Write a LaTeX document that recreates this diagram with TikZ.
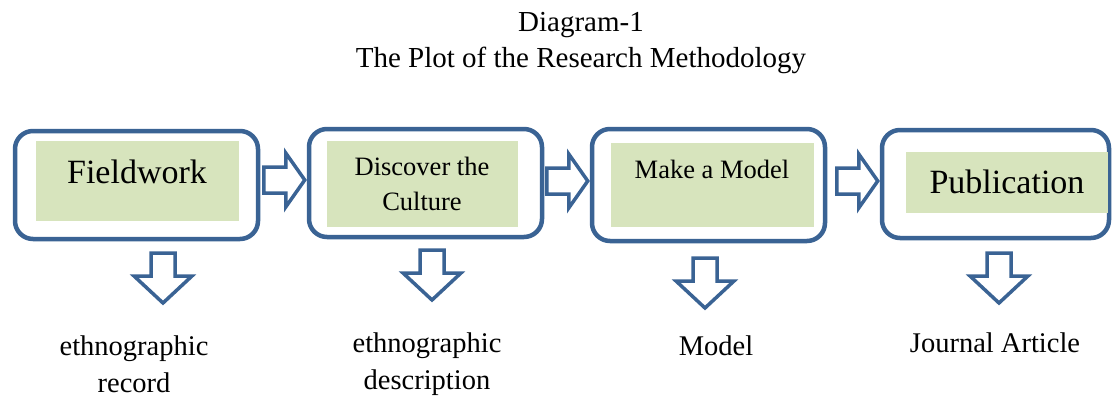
\documentclass[tikz,border=0pt]{standalone}
\usepackage{fontspec}
\setmainfont{Liberation Serif}
\definecolor{boxblue}{RGB}{58,99,148}
\definecolor{boxgreen}{RGB}{215,228,189}
\tikzset{
  outbox/.style={draw=boxblue, line width=4.5pt, rounded corners=18pt, fill=white},
  greenbox/.style={fill=boxgreen, inner sep=0pt},
  blockline/.style={draw=boxblue, line width=3.5pt, fill=white, line join=miter},
  bigtxt/.style={font=\fontsize{34}{40}\selectfont, inner sep=0pt, anchor=base},
  midtxt/.style={font=\fontsize{26.5}{35}\selectfont, inner sep=0pt, anchor=base},
  lbltxt/.style={font=\fontsize{28.5}{37}\selectfont, inner sep=0pt, anchor=base, align=center},
  ttltxt/.style={font=\fontsize{29}{36}\selectfont, inner sep=0pt, anchor=base, align=center},
  rarrow/.pic={\filldraw[blockline] (0,0) -- (-19,-27) -- (-19,-13) -- (-41,-13) -- (-41,13) -- (-19,13) -- (-19,27) -- cycle;},
  darrow/.pic={\filldraw[blockline] (0,0) -- (29,-27) -- (12,-27) -- (12,-50) -- (-12,-50) -- (-12,-27) -- (-29,-27) -- cycle;}
}
\begin{document}
\begin{tikzpicture}[x=1pt,y=-1pt]
    \useasboundingbox (0,0) rectangle (1112,396);
    \node[ttltxt] (ttl) at (581,68) {Diagram-1\\The Plot of the Research Methodology};

    \node[outbox, minimum width=243, minimum height=108] (fw) at (136.5,185) {};
    \node[outbox, minimum width=233, minimum height=108] (dc) at (425.5,183) {};
    \node[outbox, minimum width=233, minimum height=112] (mm) at (708.5,185) {};
    \node[outbox, minimum width=227, minimum height=108] (pb) at (995.5,184) {};

    \node[greenbox, minimum width=203, minimum height=80] (fwg) at (137.5,181) {};
    \node[greenbox, minimum width=191, minimum height=86] (dcg) at (422.5,184) {};
    \node[greenbox, minimum width=203, minimum height=84] (mmg) at (712.5,185) {};
    \node[greenbox, minimum width=202, minimum height=61] (pbg) at (1007,182.5) {};

    \node[bigtxt] (fwt) at (137,183) {Fieldwork};
    \node[midtxt] (dct) at (422,175) {Discover the};
    \node[midtxt] (dct2) at (422,210) {Culture};
    \node[midtxt] (mmt) at (712,178) {Make a Model};
    \node[bigtxt] (pbt) at (1007,193) {Publication};

    \pic at ([xshift=-2pt,yshift=3pt]dc.west) {rarrow};
    \pic at ([xshift=-2pt,yshift=4pt]mm.west) {rarrow};
    \pic at ([xshift=-2pt,yshift=3pt]pb.west) {rarrow};

    \pic at (163,303) {darrow};
    \pic at (432,300) {darrow};
    \pic at (705,308) {darrow};
    \pic at (999,303) {darrow};

    \node[lbltxt] (rec) at (134,392) {ethnographic\\record};
    \node[lbltxt] (des) at (427,389) {ethnographic\\description};
    \node[lbltxt] (mdl) at (716,355) {Model};
    \node[lbltxt] (art) at (995,352) {Journal Article};
\end{tikzpicture}
\end{document}
